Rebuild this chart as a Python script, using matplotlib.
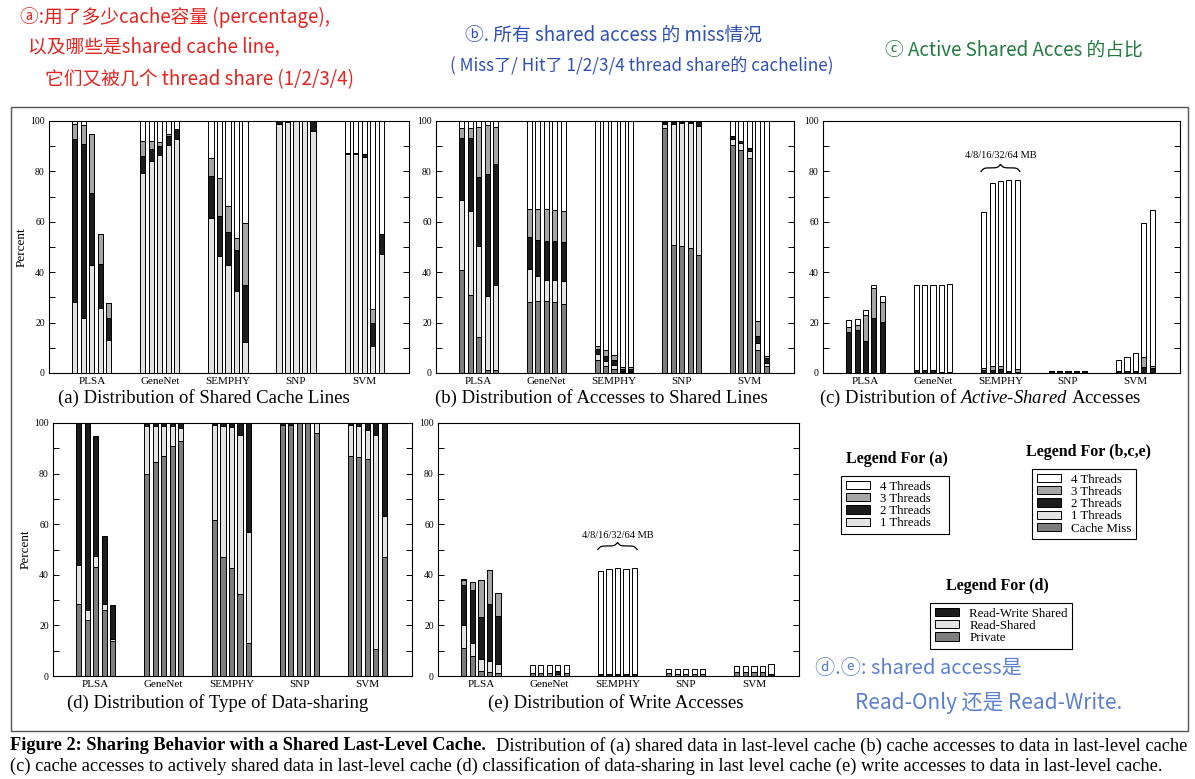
import matplotlib
matplotlib.use('Agg')
import matplotlib.pyplot as plt
import numpy as np
from matplotlib.patches import Patch, Rectangle
from matplotlib.ticker import MultipleLocator, FuncFormatter

# ---------------- data ----------------
benchmarks = ['PLSA', 'GeneNet', 'SEMPHY', 'SNP', 'SVM']
cache_sizes = ['4', '8', '16', '32', '64']   # MB, five bars per benchmark

# (a) Distribution of Shared Cache Lines (5 bars per benchmark, in benchmark order)
a_t1 = [28.0, 21.7, 42.8, 25.9, 12.9,  79.5, 84.1, 86.5, 90.6, 92.7,  61.7, 46.6, 42.7, 32.4, 12.5,
        98.8, 99.5, 100.0, 100.0, 96.2,  86.8, 86.8, 85.6, 10.6, 47.2]
a_t2 = [65.0, 69.3, 28.6, 17.3, 8.9,  6.8, 4.7, 3.6, 3.5, 4.0,  16.5, 15.8, 13.4, 16.3, 22.5,
        1.2, 0.5, 0.0, 0.0, 3.8,  0.7, 0.7, 1.5, 9.2, 8.0]
a_t3 = [5.7, 7.6, 23.3, 12.0, 6.0,  5.9, 3.4, 1.4, 0.6, 0.3,  7.0, 14.9, 10.3, 4.8, 24.4,
        0.0, 0.0, 0.0, 0.0, 0.0,  0.0, 0.0, 0.0, 5.6, 0.0]
a_t4 = [1.3, 1.4, 0.0, 0.0, 0.0,  7.8, 7.8, 8.5, 5.3, 3.0,  14.8, 22.7, 33.6, 46.5, 40.6,
        0.0, 0.0, 0.0, 0.0, 0.0,  12.5, 12.5, 12.9, 74.6, 44.8]

# (b) Distribution of Accesses to Shared Lines
b_miss = [40.9, 31.0, 14.1, 1.3, 1.0,  28.1, 28.7, 28.7, 28.1, 27.3,  5.3, 2.6, 1.7, 0.3, 0.3,
          97.1, 50.9, 50.2, 49.5, 46.9,  90.5, 88.5, 85.2, 9.2, 2.6]
b_t1 = [27.8, 33.3, 36.1, 29.1, 34.0,  13.1, 9.6, 8.3, 8.9, 9.3,  2.2, 2.0, 1.6, 0.6, 0.4,
        1.7, 47.9, 49.1, 49.8, 51.1,  2.2, 2.6, 3.0, 2.7, 1.4]
b_t2 = [24.4, 28.8, 27.7, 48.5, 48.0,  12.6, 14.5, 15.4, 15.4, 15.3,  2.1, 2.3, 2.0, 0.8, 0.9,
        0.9, 0.9, 0.4, 0.4, 1.7,  1.4, 1.0, 1.2, 2.9, 1.9]
b_t3 = [4.0, 4.0, 19.9, 19.5, 14.8,  11.2, 12.2, 12.6, 12.3, 12.4,  1.0, 2.1, 1.7, 0.5, 0.8,
        0.0, 0.0, 0.0, 0.0, 0.0,  0.0, 0.0, 0.0, 5.9, 1.0]
b_t4 = [2.9, 2.9, 2.2, 1.6, 2.2,  35.0, 35.0, 35.0, 35.3, 35.7,  89.4, 91.0, 93.0, 97.8, 97.6,
        0.3, 0.3, 0.3, 0.3, 0.3,  5.9, 7.9, 10.6, 79.3, 93.1]

# (c) Distribution of Active-Shared Accesses
c_t2 = [16.1, 16.9, 12.8, 21.8, 20.1,  1.1, 1.1, 1.1, 0.3, 0.3,  1.3, 1.3, 1.6, 0.7, 0.5,
        0.6, 0.6, 0.6, 0.6, 0.6,  0.9, 0.9, 0.9, 2.4, 2.0]
c_t3 = [2.1, 2.3, 10.1, 11.9, 7.9,  0.0, 0.0, 0.0, 0.0, 0.0,  0.7, 1.6, 1.0, 0.0, 1.1,
        0.0, 0.0, 0.0, 0.0, 0.0,  0.0, 0.0, 0.0, 3.9, 0.6]
c_t4 = [2.7, 2.2, 2.2, 1.3, 2.4,  33.9, 33.9, 33.9, 34.7, 35.0,  61.8, 72.4, 73.4, 75.7, 75.0,
        0.0, 0.0, 0.0, 0.0, 0.0,  4.4, 5.4, 7.0, 53.1, 62.1]

# (d) Distribution of Type of Data-sharing
d_private = [28.5, 22.0, 43.2, 26.0, 13.9,  79.8, 84.4, 86.8, 90.8, 93.0,  61.7, 47.0, 42.6, 32.5, 12.9,
             99.1, 99.3, 100.0, 100.0, 96.0,  86.8, 86.5, 85.9, 10.6, 47.0]
d_read_shared = [15.5, 4.2, 4.1, 2.6, 0.8,  19.1, 14.5, 12.1, 7.9, 5.0,  37.4, 51.9, 55.7, 62.9, 44.2,
                 0.0, 0.0, 0.0, 0.0, 4.0,  12.3, 12.2, 11.5, 84.8, 16.1]
d_rw_shared = [56.0, 73.8, 47.4, 26.6, 13.2,  1.1, 1.1, 1.1, 1.3, 2.0,  0.9, 1.1, 1.7, 4.6, 42.9,
               0.9, 0.7, 0.0, 0.0, 0.0,  0.9, 1.3, 2.6, 4.6, 36.9]

# (e) Distribution of Write Accesses
e_miss = [11.2, 7.9, 2.0, 1.5, 1.1,  1.3, 1.3, 1.3, 0.8, 1.3,  0.0, 0.0, 0.0, 0.0, 0.0,
          1.0, 0.8, 0.6, 0.6, 0.6,  1.6, 1.6, 1.6, 1.6, 0.0]
e_t1 = [9.0, 5.0, 4.7, 4.6, 3.6,  0.0, 0.0, 0.0, 0.0, 0.0,  0.0, 0.0, 0.0, 0.0, 0.0,
        0.0, 0.0, 0.0, 0.0, 0.0,  0.0, 0.0, 0.0, 0.0, 0.0]
e_t2 = [15.8, 21.1, 16.5, 22.3, 19.2,  0.0, 0.0, 0.0, 1.0, 0.0,  0.9, 0.9, 0.9, 0.6, 0.6,
        0.0, 0.0, 0.0, 0.0, 0.0,  0.0, 0.0, 0.0, 0.0, 0.8]
e_t3 = [2.0, 3.1, 14.8, 13.3, 8.8,  0.0, 0.0, 0.0, 0.0, 0.0,  0.0, 0.0, 0.0, 0.0, 0.0,
        0.0, 0.0, 0.0, 0.0, 0.0,  0.0, 0.0, 0.0, 0.0, 0.0]
e_t4 = [0.3, 0.0, 0.0, 0.0, 0.0,  2.9, 2.9, 2.9, 2.4, 2.9,  40.6, 41.4, 41.6, 41.7, 42.2,
        1.9, 2.1, 2.0, 2.1, 2.0,  2.4, 2.4, 2.4, 2.4, 4.1]

y_ticks = [0, 20, 40, 60, 80, 100]

# ---------------- style ----------------
SERIF = 'Liberation Serif'
plt.rcParams['font.family'] = SERIF
plt.rcParams['mathtext.fontset'] = 'custom'
plt.rcParams['mathtext.rm'] = SERIF
plt.rcParams['mathtext.it'] = SERIF + ':italic'

C4, C3, C2, C1, CM = 'white', '#a6a6a6', '#1c1c1c', '#e3e3e3', '#7d7d7d'
HAND = ['Noto Sans CJK SC', 'DejaVu Sans']

W, H = 1195, 779
fig = plt.figure(figsize=(W / 100, H / 100), dpi=100)


def px_axes(l, t, r, b):
    return fig.add_axes([l / W, 1 - b / H, (r - l) / W, (b - t) / H])


PITCH, BW = 0.125, 0.075
n_sizes = len(cache_sizes)
xpos = np.array([g + (k - (n_sizes - 1) / 2) * PITCH
                 for g in range(len(benchmarks)) for k in range(n_sizes)])


def draw_panel(ax, series, colors, ylabel=False):
    bottom = np.zeros(len(xpos))
    for vals, col in zip(series, colors):
        v = np.array(vals, dtype=float)
        ax.bar(xpos, v, BW, bottom=bottom, color=col, edgecolor='black', linewidth=0.7)
        bottom += v
    ax.set_xlim(-0.63, 4.66)
    ax.set_ylim(0, 100)
    ax.set_xticks(range(len(benchmarks)))
    ax.set_xticklabels(benchmarks, fontsize=8)
    ax.tick_params(axis='x', length=0, pad=3)
    ax.yaxis.set_major_locator(MultipleLocator(10))
    ax.yaxis.set_major_formatter(FuncFormatter(
        lambda v, p: f'{int(round(v))}' if int(round(v)) in y_ticks else ''))
    ax.tick_params(axis='y', direction='in', left=True, right=True, length=4,
                   width=0.7, labelsize=7, pad=3)
    for s in ax.spines.values():
        s.set_linewidth(0.8)
    if ylabel:
        ax.set_ylabel('Percent', fontsize=9.5, labelpad=2)
    return bottom


def brace(ax, gi, y0, h, label, ty):
    x0 = xpos[gi * n_sizes] - BW / 2
    x1 = xpos[gi * n_sizes + n_sizes - 1] + BW / 2
    half = (x1 - x0) / 2
    beta = 14.0 / half
    xh = np.linspace(x0, x0 + half, 60)
    yh = 1 / (1 + np.exp(-beta * (xh - xh[0]))) + 1 / (1 + np.exp(-beta * (xh - xh[-1])))
    xs = np.concatenate([xh, (x0 + x1) - xh[-2::-1]])
    ys = np.concatenate([yh, yh[-2::-1]])
    ax.plot(xs, y0 + (ys - 0.5) * h, color='black', lw=0.9)
    ax.text((x0 + x1) / 2, ty, label, ha='center', va='center', fontsize=7.5)


# ---------------- panels ----------------
ax_a = px_axes(49, 121, 409, 373)
draw_panel(ax_a, [a_t1, a_t2, a_t3, a_t4], [C1, C2, C3, C4], ylabel=True)

ax_b = px_axes(436, 121, 794, 373)
draw_panel(ax_b, [b_miss, b_t1, b_t2, b_t3, b_t4], [CM, C1, C2, C3, C4])

ax_c = px_axes(823, 121, 1180, 373)
draw_panel(ax_c, [c_t2, c_t3, c_t4], [C2, C3, C4])
brace(ax_c, 2, 80.0, 2.8, '4/8/16/32/64 MB', 86.5)

ax_d = px_axes(53, 423, 412, 676)
draw_panel(ax_d, [d_private, d_read_shared, d_rw_shared], [CM, C1, C2], ylabel=True)

ax_e = px_axes(438, 423, 799, 676)
draw_panel(ax_e, [e_miss, e_t1, e_t2, e_t3, e_t4], [CM, C1, C2, C3, C4])
brace(ax_e, 2, 50.0, 2.8, '4/8/16/32/64 MB', 55.5)

# panel titles
TFS = 13.5
fig.text(204 / W, 1 - 398 / H, '(a) Distribution of Shared Cache Lines', ha='center', va='center', fontsize=TFS)
fig.text(601 / W, 1 - 398 / H, '(b) Distribution of Accesses to Shared Lines', ha='center', va='center', fontsize=TFS)
fig.text(980 / W, 1 - 398 / H, r'(c) Distribution of $\mathit{Active}$-$\mathit{Shared}$ Accesses',
         ha='center', va='center', fontsize=TFS)
fig.text(218 / W, 1 - 703 / H, '(d) Distribution of Type of Data-sharing', ha='center', va='center', fontsize=TFS)
fig.text(616 / W, 1 - 703 / H, '(e) Distribution of Write Accesses', ha='center', va='center', fontsize=TFS)

# ---------------- legends ----------------
def mk(labels, colors):
    return [Patch(facecolor=c, edgecolor='black', linewidth=0.7, label=l) for l, c in zip(labels, colors)]


LEG_KW = dict(loc='upper left', frameon=True, fancybox=False, framealpha=1, edgecolor='black',
              borderaxespad=0, fontsize=9.3, handlelength=1.9, handleheight=0.6,
              handletextpad=0.8, labelspacing=0.02, borderpad=0.35)

leg_a = fig.legend(handles=mk(['4 Threads    ', '3 Threads', '2 Threads', '1 Threads'], [C4, C3, C2, C1]),
                   bbox_to_anchor=(841 / W, 1 - 476 / H), **LEG_KW)
leg_a.get_frame().set_linewidth(0.8)
leg_b = fig.legend(handles=mk(['4 Threads', '3 Threads', '2 Threads', '1 Threads', 'Cache Miss'],
                              [C4, C3, C2, C1, CM]),
                   bbox_to_anchor=(1032 / W, 1 - 469 / H), **LEG_KW)
leg_b.get_frame().set_linewidth(0.8)
leg_d = fig.legend(handles=mk(['Read-Write Shared', 'Read-Shared', 'Private'], [C2, C1, CM]),
                   bbox_to_anchor=(930 / W, 1 - 603 / H), **LEG_KW)
leg_d.get_frame().set_linewidth(0.8)

fig.text(897 / W, 1 - 459 / H, 'Legend For (a)', ha='center', va='center', fontsize=11.5, fontweight='bold')
fig.text(1089 / W, 1 - 452 / H, 'Legend For (b,c,e)', ha='center', va='center', fontsize=11.5, fontweight='bold')
fig.text(997 / W, 1 - 586 / H, 'Legend For (d)', ha='center', va='center', fontsize=11.5, fontweight='bold')

# outer frame
fig.add_artist(Rectangle((11 / W, 1 - 731 / H), (1188 - 11) / W, (731 - 107) / H,
                         transform=fig.transFigure, fill=False, edgecolor='#555555', lw=1.0))

# ---------------- caption ----------------
CFS = 13.2
renderer = fig.canvas.get_renderer()
t_bold = fig.text(10 / W, 1 - 746 / H, 'Figure 2: Sharing Behavior with a Shared Last-Level Cache.',
                  ha='left', va='center', fontsize=CFS, fontweight='bold')
bb = t_bold.get_window_extent(renderer)
fig.text((bb.x1 + 10) / W, 1 - 746 / H,
         'Distribution of (a) shared data in last-level cache (b) cache accesses to data in last-level cache',
         ha='left', va='center', fontsize=CFS)
fig.text(10 / W, 1 - 766 / H,
         '(c) cache accesses to actively shared data in last-level cache (d) classification of data-sharing '
         'in last level cache (e) write accesses to data in last-level cache.',
         ha='left', va='center', fontsize=CFS)

# ---------------- handwritten notes ----------------
RED, BLUE, GREEN, BLUE2 = '#e5231e', '#2f4fb8', '#1f7a3c', '#5a7fd0'
fig.text(20 / W, 1 - 17 / H, 'ⓐ:用了多少cache容量 (percentage),', color=RED, fontsize=13.5, family=HAND, va='center')
fig.text(28 / W, 1 - 47 / H, '以及哪些是shared cache line,', color=RED, fontsize=13.5, family=HAND, va='center')
fig.text(45 / W, 1 - 80 / H, '它们又被几个 thread share (1/2/3/4)', color=RED, fontsize=13.5, family=HAND, va='center')
fig.text(465 / W, 1 - 35 / H, 'ⓑ. 所有 shared access 的 miss情况', color=BLUE, fontsize=13.5, family=HAND, va='center')
fig.text(450 / W, 1 - 66 / H, '( Miss了/ Hit了 1/2/3/4 thread share的 cacheline)', color=BLUE, fontsize=12.3,
         family=HAND, va='center')
fig.text(885 / W, 1 - 50 / H, 'ⓒ Active Shared Acces 的占比', color=GREEN, fontsize=13.5, family=HAND, va='center')
fig.text(815 / W, 1 - 668 / H, 'ⓓ.ⓔ: shared access是', color=BLUE2, fontsize=14.5, family=HAND, va='center')
fig.text(855 / W, 1 - 703 / H, 'Read-Only 还是 Read-Write.', color=BLUE2, fontsize=15, family=HAND, va='center')

fig.savefig('out.png', dpi=100)
